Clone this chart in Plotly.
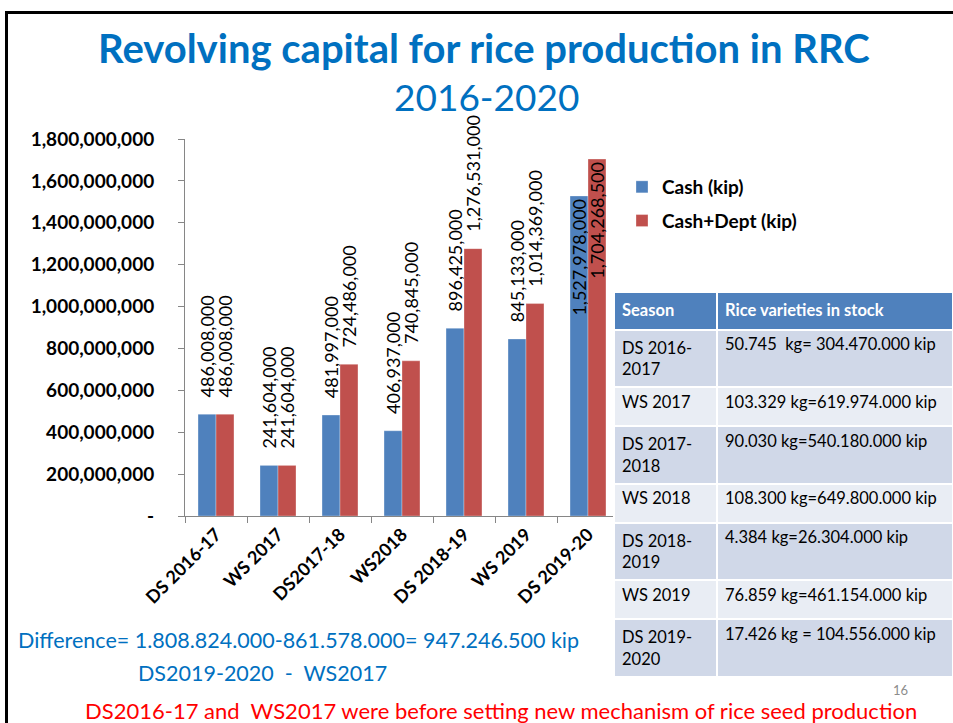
import plotly.graph_objects as go

W, H = 953, 723

seasons = ["DS 2016-17", "WS 2017", "DS2017-18", "WS2018", "DS 2018-19", "WS 2019", "DS 2019-20"]
cash = [486008000, 241604000, 481997000, 406937000, 896425000, 845133000, 1527978000]
cash_dept = [486008000, 241604000, 724486000, 740845000, 1276531000, 1014369000, 1704268500]

y_tickvals = [0, 200000000, 400000000, 600000000, 800000000, 1000000000,
              1200000000, 1400000000, 1600000000, 1800000000]
y_ticktext = ["-", "200,000,000", "400,000,000", "600,000,000", "800,000,000",
              "1,000,000,000", "1,200,000,000", "1,400,000,000", "1,600,000,000",
              "1,800,000,000"]

table_season = ["DS 2016-<br>2017", "WS 2017", "DS 2017-<br>2018", "WS 2018",
                "DS 2018-<br>2019", "WS 2019", "DS 2019-<br>2020"]
table_stock = ["50.745  kg= 304.470.000 kip", "103.329 kg=619.974.000 kip",
               "90.030 kg=540.180.000 kip", "108.300 kg=649.800.000 kip",
               "4.384 kg=26.304.000 kip", "76.859 kg=461.154.000 kip",
               "17.426 kg = 104.556.000 kip"]

FONT = "Lato"
BLUE = "#4F81BD"
RED = "#C0504D"
TITLE_BLUE = "#0070C0"


def px(x):
    return x / W


def py(y):
    return 1 - y / H


positions = ["outside"] * (len(seasons) - 1) + ["inside"]
lbl_font = dict(family=FONT, size=18, color="black")

fig = go.Figure()
for name, vals, col, grp in [("Cash (kip)", cash, BLUE, "a"),
                             ("Cash+Dept (kip)", cash_dept, RED, "b")]:
    fig.add_trace(go.Bar(
        x=seasons, y=vals, name=name, marker_color=col,
        marker_line=dict(color="rgba(255,255,255,0.6)", width=0.5),
        texttemplate="\u00a0\u00a0\u00a0%{y:,}", textposition=positions, textangle=-90,
        insidetextanchor="end",
        textfont=lbl_font, outsidetextfont=lbl_font, insidetextfont=lbl_font,
        constraintext="none", cliponaxis=False, legendgroup=grp,
    ))

row_colors = ["#D0D8E8" if i % 2 == 0 else "#E9EDF4" for i in range(len(table_season))]
fig.add_trace(go.Table(
    domain=dict(x=[px(614), 1], y=[py(700), py(292)]),
    columnwidth=[103, 236],
    header=dict(values=["<b>Season</b>", "<b>Rice varieties in stock</b>"],
                fill_color=BLUE, line=dict(color="white", width=2),
                font=dict(family=FONT, size=16.5, color="white"),
                align="left", height=38),
    cells=dict(values=[table_season, table_stock],
               fill_color=[row_colors, row_colors],
               line=dict(color="white", width=2),
               font=dict(family=FONT, size=16.5, color="black"),
               align="left", height=39),
))

fig.update_layout(
    width=W, height=H,
    margin=dict(l=0, r=0, t=0, b=0, pad=0, autoexpand=False),
    paper_bgcolor="white", plot_bgcolor="white",
    barmode="group", bargap=0.42, bargroupgap=0,
    font=dict(family=FONT, color="black"),
    showlegend=True,
    legend=dict(x=px(622), y=py(168), xanchor="left", yanchor="top",
                font=dict(family=FONT, size=19, color="black", weight="bold"),
                traceorder="grouped", tracegroupgap=6, itemwidth=30,
                bgcolor="rgba(0,0,0,0)"),
    xaxis=dict(domain=[px(185), px(619)], type="category", automargin=False,
               showline=True, linecolor="#868686", linewidth=1,
               ticks="outside", tickson="boundaries", ticklen=6, tickcolor="#868686",
               tickangle=-45, showgrid=False,
               tickfont=dict(family=FONT, size=18, color="black", weight="bold")),
    yaxis=dict(domain=[py(516), py(139)], range=[0, 1800000000], automargin=False,
               tickvals=y_tickvals, ticktext=y_ticktext,
               showline=True, linecolor="#868686", linewidth=1,
               ticks="outside", ticklen=6, tickcolor="#868686",
               showgrid=False, zeroline=False, ticklabelstandoff=20,
               tickfont=dict(family=FONT, size=19, color="black", weight="bold")),
    annotations=[
        dict(text="<b>Revolving capital for rice production in RRC</b>",
             x=px(484), y=py(48), xref="paper", yref="paper", showarrow=False,
             xanchor="center", yanchor="middle",
             font=dict(family=FONT, size=40, color=TITLE_BLUE)),
        dict(text="2016-2020", x=px(487), y=py(97), xref="paper", yref="paper",
             xanchor="center", yanchor="middle",
             showarrow=False, font=dict(family=FONT, size=37, color=TITLE_BLUE)),
        dict(text="Difference= 1.808.824.000-861.578.000= 947.246.500 kip",
             x=px(16), y=py(640), xref="paper", yref="paper", xanchor="left",
             yanchor="middle",
             showarrow=False, font=dict(family=FONT, size=21.5, color=TITLE_BLUE)),
        dict(text="DS2019-2020  -  WS2017",
             x=px(136), y=py(673), xref="paper", yref="paper", xanchor="left",
             yanchor="middle",
             showarrow=False, font=dict(family=FONT, size=21.5, color=TITLE_BLUE)),
        dict(text="DS2016-17 and  WS2017 were before setting new mechanism of rice seed production",
             x=px(83), y=py(710), xref="paper", yref="paper", xanchor="left",
             yanchor="middle",
             showarrow=False, font=dict(family=FONT, size=22, color="#FF0000")),
        dict(text="16", x=px(900), y=py(690), xref="paper", yref="paper",
             xanchor="center", yanchor="middle",
             showarrow=False, font=dict(family=FONT, size=13, color="#8C8C8C")),
    ],
    shapes=[
        dict(type="line", xref="paper", yref="paper", x0=px(6.5), x1=px(6.5),
             y0=0, y1=py(11), line=dict(color="black", width=3)),
        dict(type="line", xref="paper", yref="paper", x0=px(5), x1=1,
             y0=py(12.5), y1=py(12.5), line=dict(color="black", width=3)),
    ],
)

fig.write_html(
    "out.html",
    config={"displayModeBar": False},
    post_script="document.body.style.margin='0';document.body.style.overflow='hidden';",
)
